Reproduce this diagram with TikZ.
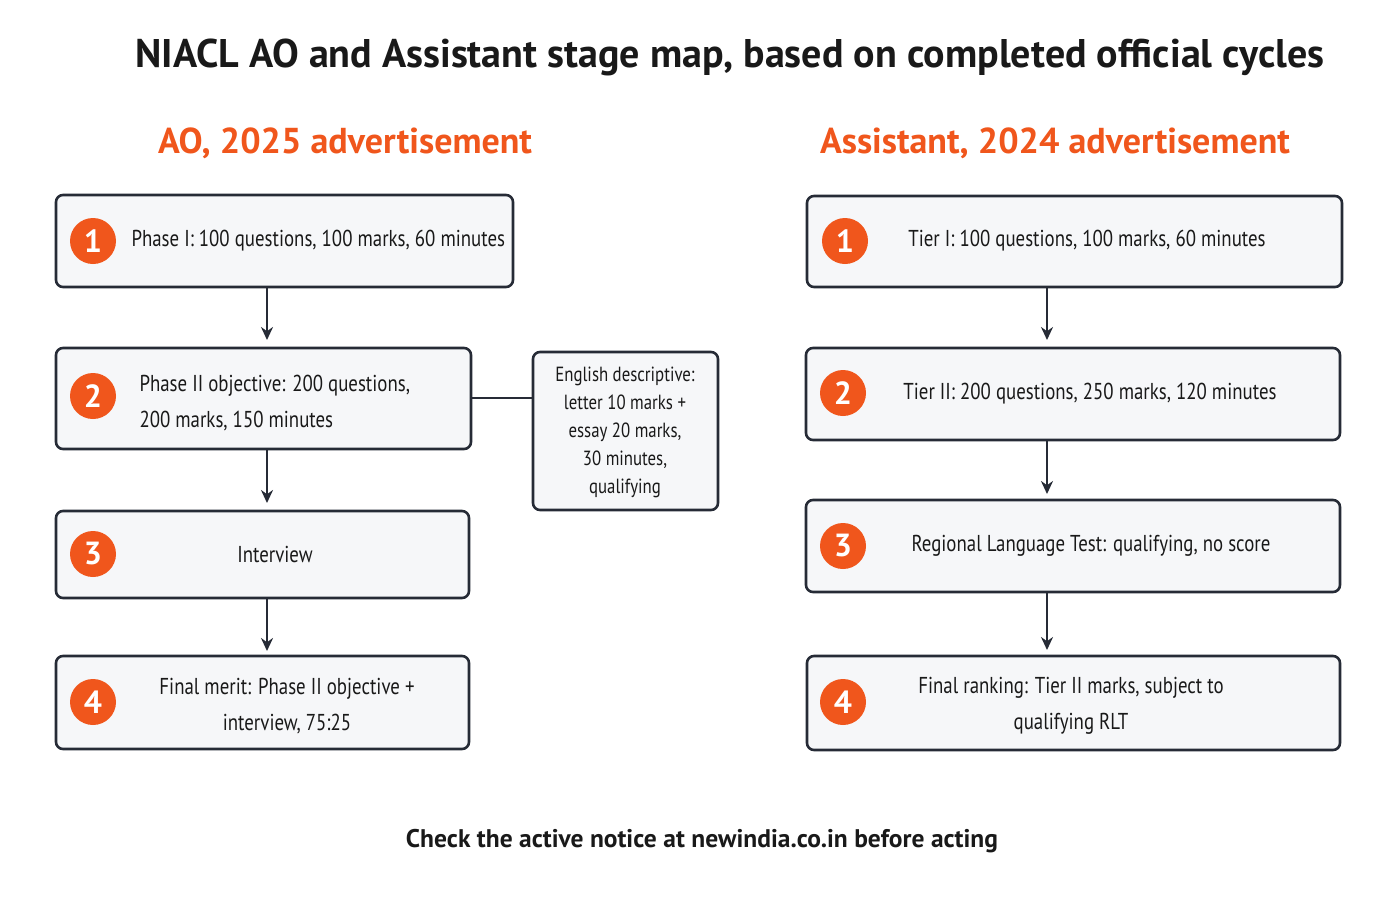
\documentclass[tikz,border=0pt]{standalone}
\usepackage{fontspec}
\setmainfont{PT Sans}
\newfontfamily\narrowf[FakeStretch=0.82]{PT Sans}
\usetikzlibrary{arrows.meta}
\definecolor{org}{HTML}{F0561C}
\definecolor{edge}{HTML}{262B36}
\definecolor{boxf}{HTML}{F6F7F9}
\begin{document}
\begin{tikzpicture}[x=1pt,y=-1pt,
  box/.style={draw=edge,line width=2.6pt,rounded corners=7pt,fill=boxf},
  num/.style={circle,fill=org,text=white,minimum size=46pt,inner sep=0pt,font=\fontsize{32}{32}\selectfont\bfseries},
  txt/.style={font=\narrowf\fontsize{23}{36}\selectfont,text=black!90,align=center},
  arr/.style={-{Stealth[length=13pt,width=12pt]},line width=2.6pt,draw=edge}]
\useasboundingbox (0,0) rectangle (1400,900);
\node[font=\fontsize{40}{44}\selectfont\bfseries,text=black!90] (title) at (730,57) {NIACL AO and Assistant stage map, based on completed official cycles};
\node[font=\fontsize{36}{40}\selectfont\bfseries,text=org] (hl) at (345,143) {AO, 2025 advertisement};
\node[font=\fontsize{36}{40}\selectfont\bfseries,text=org] (hr) at (1055,143) {Assistant, 2024 advertisement};
\node[font=\fontsize{25.5}{28}\selectfont\bfseries,text=black!90] (foot) at (702,841) {Check the active notice at newindia.co.in before acting};
% left
\draw[box] (56,195) rectangle (513,287);
\draw[box] (56,348) rectangle (471,449);
\draw[box] (56,511) rectangle (469,598);
\draw[box] (56,656) rectangle (469,749);
\draw[box] (533,352) rectangle (718,510);
\node[num] (n1) at (93,241) {1}; \node[num] (n2) at (93,396) {2};
\node[num] (n3) at (93,554) {3}; \node[num] (n4) at (93,702) {4};
\node[txt,anchor=west] (t1) at (128,241) {Phase I: 100 questions, 100 marks, 60 minutes};
\node[txt,align=left,anchor=west] (t2) at (136,403) {Phase II objective: 200 questions,\\200 marks, 150 minutes};
\node[txt] (t3) at (275,554) {Interview};
\node[txt] (t4) at (287,706) {Final merit: Phase II objective +\\interview, 75:25};
\node[txt,font=\narrowf\fontsize{20.5}{28}\selectfont] (ts) at (625,432) {English descriptive:\\letter 10 marks +\\essay 20 marks,\\30 minutes,\\qualifying};
\coordinate (c1) at (471,398); \coordinate (c2) at (533,398);
\draw[line width=2.6pt,draw=edge] (c1) -- (c2);
\coordinate (a1) at (267,287); \coordinate (a2) at (267,340);
\coordinate (a3) at (267,449); \coordinate (a4) at (267,503);
\coordinate (a5) at (267,598); \coordinate (a6) at (267,651);
\draw[arr] (a1)--(a2); \draw[arr] (a3)--(a4); \draw[arr] (a5)--(a6);
% right
\draw[box] (807,196) rectangle (1342,287);
\draw[box] (806,348) rectangle (1340,440);
\draw[box] (806,500) rectangle (1340,592);
\draw[box] (807,656) rectangle (1340,750);
\node[num] (m1) at (845,241) {1}; \node[num] (m2) at (843,393) {2};
\node[num] (m3) at (843,546) {3}; \node[num] (m4) at (843,702) {4};
\node[txt] (u1) at (1087,241) {Tier I: 100 questions, 100 marks, 60 minutes};
\node[txt] (u2) at (1090,394) {Tier II: 200 questions, 250 marks, 120 minutes};
\node[txt] (u3) at (1091,546) {Regional Language Test: qualifying, no score};
\node[txt] (u4) at (1071,706) {Final ranking: Tier II marks, subject to\\qualifying RLT};
\coordinate (b1) at (1047,287); \coordinate (b2) at (1047,340);
\coordinate (b3) at (1047,440); \coordinate (b4) at (1047,494);
\coordinate (b5) at (1047,592); \coordinate (b6) at (1047,650);
\draw[arr] (b1)--(b2); \draw[arr] (b3)--(b4); \draw[arr] (b5)--(b6);
\end{tikzpicture}
\end{document}
